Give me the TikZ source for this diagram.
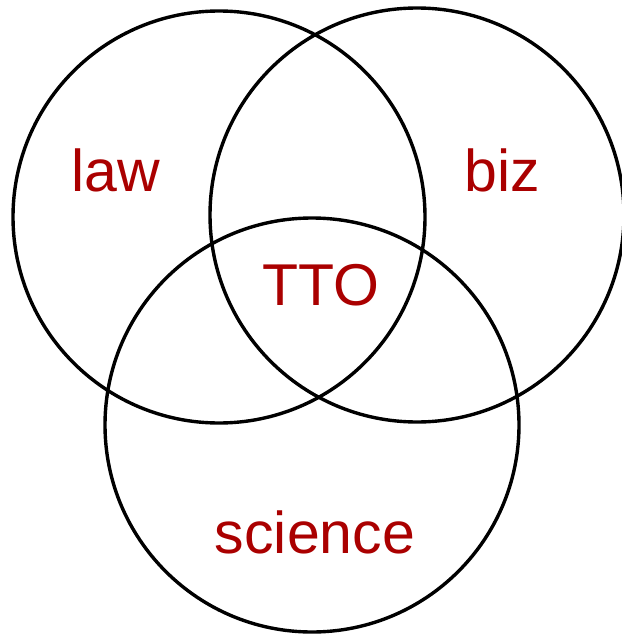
\documentclass[tikz,border=0pt]{standalone}
\usepackage{fontspec}
\setmainfont{Liberation Sans}
\begin{document}
\begin{tikzpicture}[x=1pt,y=-1pt,
  setcircle/.style={draw=black, line width=3.4pt, circle, inner sep=0pt, minimum size=#1},
  setlabel/.style={text=labelred, font=\fontsize{59}{59}\selectfont, inner sep=0pt, anchor=base}]
  \definecolor{labelred}{RGB}{170,0,0}
  \useasboundingbox (0,0) rectangle (621,634);
  % the three sets
  \node[setcircle=412pt] (lawset) at (219,217) {};
  \node[setcircle=414pt] (bizset) at (417,215) {};
  \node[setcircle=414pt] (sciset) at (312,425) {};
  % labels
  \node[setlabel] (law) at (116,191) {law};
  \node[setlabel] (biz) at (502,191) {biz};
  \node[setlabel] (tto) at (321,305) {TTO};
  \node[setlabel] (science) at (315,553) {science};
\end{tikzpicture}
\end{document}
